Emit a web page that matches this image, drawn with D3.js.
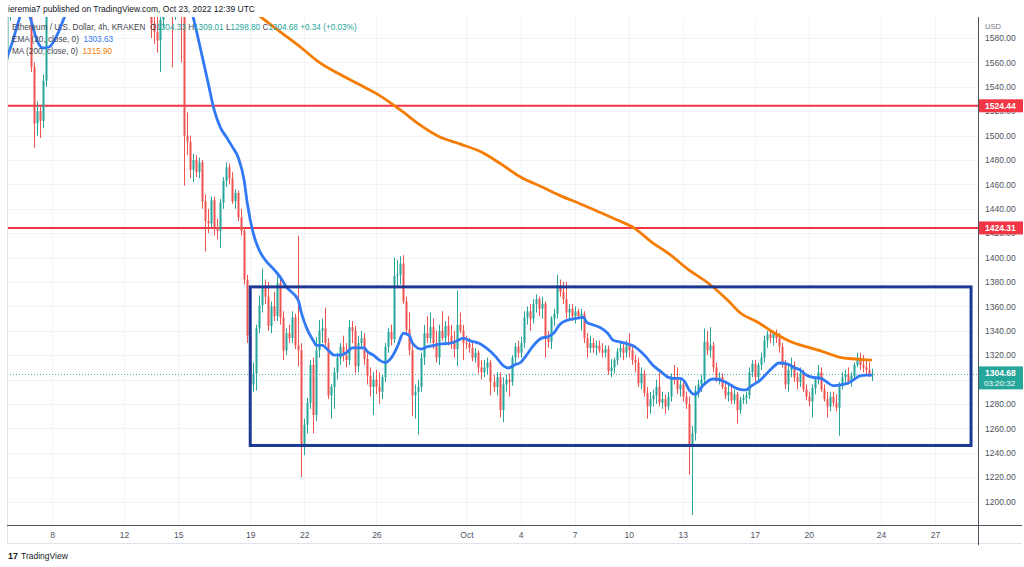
<!DOCTYPE html>
<html><head><meta charset="utf-8">
<script src="https://cdn.jsdelivr.net/npm/d3@7"></script>
<style>body{margin:0;background:#fff;} svg{display:block;font-family:"Liberation Sans",Arial,sans-serif;}</style>
</head><body><svg id="c" width="1024" height="567"></svg>
<script>
// ---------- DATA ----------
const candleStartUTC = Date.UTC(2022, 8, 5, 12); // first visible 4h candle
const candleHours = 4;
// [open, high, low, close] per 4h candle
const candles = [
[1562,1600,1556,1598],[1598,1625,1594,1618],[1618,1632,1605,1612],
[1612,1640,1606,1632],[1632,1660,1625,1650],[1650,1690,1645,1680],[1680,1700,1640,1650],[1650,1660,1610,1625],[1625,1628,1552,1556],
[1556,1560,1490,1510],[1510,1528,1500,1520],[1520,1525,1498,1512],[1512,1550,1506,1545],[1545,1610,1540,1605],[1605,1640,1600,1632],
[1632,1650,1605,1620],[1620,1640,1610,1635],[1635,1650,1620,1628],[1628,1660,1615,1645],[1645,1655,1625,1635],[1635,1645,1625,1636],
[1636,1650,1630,1645],[1645,1680,1640,1675],[1675,1700,1665,1695],[1695,1720,1685,1710],[1710,1725,1700,1715],[1715,1725,1705,1718],
[1718,1735,1710,1725],[1725,1740,1715,1730],[1730,1745,1720,1738],[1738,1760,1730,1752],[1752,1765,1740,1745],[1745,1755,1735,1748],
[1748,1765,1740,1760],[1760,1775,1750,1768],[1768,1780,1755,1762],[1762,1770,1745,1755],[1755,1765,1740,1750],[1750,1770,1745,1765],
[1765,1790,1755,1780],[1780,1795,1765,1770],[1770,1775,1720,1735],[1735,1745,1700,1715],[1715,1730,1700,1725],[1725,1735,1705,1710],
[1710,1730,1695,1720],[1720,1735,1705,1712],[1712,1725,1690,1700],[1700,1710,1580,1592],[1592,1605,1575,1585],[1585,1600,1568,1578],
[1578,1600,1552,1595],[1595,1620,1588,1612],[1612,1630,1600,1615],[1615,1625,1598,1605],[1605,1620,1556,1600],[1600,1640,1595,1630],
[1630,1645,1615,1625],[1625,1630,1560,1598],[1598,1605,1459,1500],[1500,1519,1484,1495],[1495,1500,1465,1472],[1472,1485,1462,1480],
[1480,1484,1466,1470],[1470,1482,1465,1478],[1478,1480,1440,1446],[1446,1452,1405,1430],[1430,1440,1420,1428],[1428,1450,1425,1447],
[1447,1450,1418,1425],[1425,1432,1415,1422],[1422,1448,1408,1445],[1445,1466,1440,1463],[1463,1478,1458,1474],[1474,1477,1460,1465],
[1465,1470,1444,1446],[1446,1456,1440,1453],[1453,1455,1430,1433],[1433,1440,1418,1422],[1422,1425,1378,1382],[1382,1386,1330,1336],
[1336,1360,1288,1296],[1296,1314,1290,1305],[1305,1345,1291,1342],[1342,1369,1338,1361],[1361,1391,1355,1375],[1375,1382,1362,1368],
[1368,1380,1340,1344],[1344,1364,1338,1360],[1360,1372,1348,1352],[1352,1385,1348,1379],[1379,1383,1345,1351],[1351,1356,1316,1324],
[1324,1342,1320,1338],[1338,1345,1330,1334],[1334,1356,1330,1351],[1351,1354,1325,1328],[1328,1418,1311,1324],[1324,1330,1220,1245],
[1245,1268,1238,1263],[1263,1285,1256,1281],[1281,1316,1276,1312],[1312,1318,1256,1271],[1271,1335,1266,1324],[1324,1349,1318,1340],
[1340,1350,1330,1342],[1342,1359,1328,1330],[1330,1334,1284,1287],[1287,1296,1268,1294],[1294,1310,1276,1306],[1306,1322,1300,1318],
[1318,1330,1312,1327],[1327,1336,1315,1320],[1320,1330,1310,1316],[1316,1349,1312,1343],[1343,1348,1330,1340],[1340,1344,1305,1311],
[1311,1336,1306,1330],[1330,1340,1325,1334],[1334,1338,1312,1317],[1317,1322,1296,1303],[1303,1310,1286,1294],[1294,1306,1271,1300],
[1300,1308,1288,1294],[1294,1306,1280,1290],[1290,1304,1284,1302],[1302,1330,1298,1327],[1327,1342,1322,1339],[1339,1345,1328,1333],
[1333,1400,1330,1385],[1385,1398,1375,1386],[1386,1401,1378,1395],[1395,1402,1362,1364],[1364,1368,1338,1341],[1341,1355,1320,1324],
[1324,1330,1270,1287],[1287,1296,1268,1290],[1290,1300,1255,1294],[1294,1322,1290,1318],[1318,1345,1312,1338],[1338,1352,1330,1334],
[1334,1355,1330,1343],[1343,1350,1325,1330],[1330,1340,1314,1318],[1318,1345,1312,1340],[1340,1356,1332,1334],[1334,1348,1328,1344],
[1344,1352,1328,1336],[1336,1345,1325,1330],[1330,1340,1318,1325],[1325,1373,1311,1345],[1345,1355,1338,1340],[1340,1345,1316,1330],
[1330,1336,1325,1329],[1329,1334,1322,1326],[1326,1330,1315,1318],[1318,1326,1314,1322],[1322,1324,1305,1310],[1310,1316,1300,1306],
[1306,1316,1302,1310],[1310,1318,1304,1314],[1314,1316,1287,1298],[1298,1304,1290,1294],[1294,1306,1287,1302],[1302,1306,1269,1275],
[1275,1302,1265,1296],[1296,1304,1290,1300],[1300,1305,1286,1298],[1298,1320,1295,1318],[1318,1330,1312,1327],[1327,1332,1318,1322],
[1322,1335,1318,1330],[1330,1356,1326,1351],[1351,1360,1345,1356],[1356,1362,1340,1350],[1350,1366,1346,1362],[1362,1370,1355,1366],
[1366,1368,1352,1358],[1358,1368,1350,1362],[1362,1364,1318,1334],[1334,1340,1326,1331],[1331,1352,1325,1350],[1350,1358,1344,1354],
[1354,1386,1350,1377],[1377,1382,1368,1372],[1372,1380,1362,1366],[1366,1380,1350,1355],[1355,1362,1348,1358],[1358,1362,1348,1352],
[1352,1360,1346,1356],[1356,1358,1350,1352],[1352,1358,1340,1354],[1354,1356,1330,1334],[1334,1338,1318,1326],[1326,1336,1322,1330],
[1330,1334,1322,1326],[1326,1332,1320,1328],[1328,1332,1322,1324],[1324,1330,1318,1322],[1322,1328,1318,1325],[1325,1328,1304,1307],
[1307,1317,1302,1310],[1310,1318,1305,1316],[1316,1326,1312,1323],[1323,1330,1318,1326],[1326,1330,1316,1322],[1322,1332,1318,1328],
[1328,1338,1318,1324],[1324,1328,1312,1316],[1316,1320,1306,1314],[1314,1318,1294,1297],[1297,1310,1292,1305],[1305,1308,1286,1289],
[1289,1294,1268,1278],[1278,1290,1272,1284],[1284,1292,1278,1287],[1287,1300,1280,1294],[1294,1306,1278,1281],[1281,1290,1276,1284],
[1284,1288,1272,1278],[1278,1290,1275,1286],[1286,1305,1282,1302],[1302,1312,1296,1300],[1300,1310,1288,1292],[1292,1300,1286,1296],
[1296,1300,1282,1286],[1286,1290,1276,1280],[1280,1286,1222,1245],[1245,1262,1189,1256],[1256,1295,1250,1291],[1291,1300,1285,1296],
[1296,1304,1290,1300],[1300,1342,1296,1331],[1331,1340,1320,1324],[1324,1343,1318,1328],[1328,1331,1306,1310],[1310,1314,1298,1300],
[1300,1306,1296,1302],[1302,1305,1292,1294],[1294,1298,1284,1287],[1287,1296,1282,1290],[1290,1294,1280,1283],[1283,1292,1280,1288],
[1288,1290,1264,1275],[1275,1286,1272,1283],[1283,1288,1280,1285],[1285,1290,1280,1287],[1287,1310,1284,1306],[1306,1316,1302,1313],
[1313,1316,1298,1302],[1302,1314,1298,1312],[1312,1322,1308,1318],[1318,1336,1314,1332],[1332,1340,1326,1337],[1337,1341,1330,1334],
[1334,1340,1328,1338],[1338,1341,1330,1334],[1334,1338,1322,1327],[1327,1330,1310,1313],[1313,1316,1292,1296],[1296,1312,1290,1308],
[1308,1318,1302,1312],[1312,1315,1298,1302],[1302,1306,1292,1298],[1298,1310,1294,1305],[1305,1308,1290,1292],[1292,1296,1283,1286],
[1286,1290,1278,1282],[1282,1296,1269,1293],[1293,1302,1288,1300],[1300,1312,1296,1306],[1306,1310,1290,1292],[1292,1296,1282,1284],
[1284,1290,1269,1278],[1278,1290,1274,1286],[1286,1290,1278,1281],[1281,1288,1274,1277],[1277,1298,1254,1295],[1295,1306,1292,1302],
[1302,1308,1296,1304],[1304,1310,1296,1298],[1298,1306,1294,1303],[1303,1314,1300,1312],[1312,1322,1310,1318],[1318,1322,1308,1312],
[1312,1320,1306,1310],[1310,1316,1304,1308],[1308,1314,1302,1304.33],[1304.33,1309.01,1298.80,1304.68]
];
// EMA(20) readings: [candle index, value]
const emaPoints = [[0,1563.6],[2,1578.3],[4,1594.7],[6,1610],[7,1603],[8,1594.7],[10,1578.3],[12,1571.8],[14,1572.6],[17,1584],[19,1596.3],
[22,1612],[26,1630],[30,1652],[36,1680],[42,1705],[46,1712],[50,1695],[54,1660],[58,1625],[62,1597],[64,1576],[67,1543],[69,1521],
[71,1507],[73,1499],[75,1491],[77,1482],[79,1463],[80,1445],[82,1420],[84,1406],[86,1398],[89,1390],[91,1384],[93,1376],[97,1365],
[98,1355],[100,1341],[102,1332],[103,1328],[105,1328],[107,1324],[109,1320],[111,1320],[113,1322],[115,1326],[119,1326],[120,1323],
[122,1320],[124,1316],[126,1314],[128,1318],[130,1327],[132,1338],[134,1336],[135,1330],[138,1325],[140,1327],[142,1328],[144,1329],
[148,1330],[150,1332],[152,1334],[154,1332],[157,1330],[159,1327],[161,1323],[163,1318],[165,1312],[167,1309.5],[169,1312],[171,1314],
[173,1320],[175,1327],[178,1334],[180,1335],[182,1338],[184,1345],[187,1349],[189,1350],[192,1351],[193,1347],[195,1345],[198,1342],
[200,1338],[202,1332],[204,1331],[207,1329],[209,1327],[211,1323],[213,1318],[215,1312],[218,1306],[220,1302],[222,1301],[224,1301],
[226,1297],[227,1292],[229,1288],[230,1289],[231,1293],[233,1298],[235,1300.5],[237,1300],[240,1297],[242,1294],[244,1292],[246,1291.5],
[248,1295],[251,1300],[253,1305],[255,1310],[257,1313.6],[260,1312.7],[262,1310],[264,1308],[266,1304],[268,1302],[271,1301],[273,1298],
[275,1295],[277,1295.5],[280,1297],[282,1300],[284,1303],[286,1303.7],[288,1303.63]];
// MA(200) readings: [candle index, value]
const maPoints = [[80,1606],[85,1596.3],[91,1585],[98,1572],[104,1560],[111,1550],[118,1541],[124,1533],[131,1521],[138,1508],[144,1499],
[151,1493],[158,1486.5],[164,1477.5],[171,1466],[178,1458],[184,1451],[191,1444],[198,1436.5],[204,1430],[209,1424],[214,1414],[221,1402],
[227,1390],[233,1380],[240,1365],[244,1355],[250,1347],[255,1339],[261,1331],[266,1327],[272,1322.6],[277,1318.5],[283,1316.8],[288,1315.9]];
const levels = [1524.44, 1424.31];
const rangeBox = {start: "2022-09-19T00:00Z", end: "2022-10-29T00:00Z", top: 1376, bottom: 1246};
const priceTicks = [1200,1220,1240,1260,1280,1300,1320,1340,1360,1380,1400,1420,1440,1460,1480,1500,1520,1540,1560,1580];
const hiddenTickLabels = [1300]; // fully covered by the last-price label in the reference
const dateTicks = ["2022-09-08","2022-09-12","2022-09-15","2022-09-19","2022-09-22","2022-09-26","2022-10-01","2022-10-04","2022-10-07","2022-10-10","2022-10-13","2022-10-17","2022-10-20","2022-10-24","2022-10-27"];
const dateLabels = ["8","12","15","19","22","26","Oct","4","7","10","13","17","20","24","27"];
const lastPrice = 1304.68, countdown = "03:20:32";
const header = "ieremia7 published on TradingView.com, Oct 23, 2022 12:39 UTC";

// ---------- LAYOUT ----------
const L = 7, R = 978, T = 17, B = 525;
const UP = "#26a69a", DN = "#ef5350";
const svg = d3.select("#c");
const x = d3.scaleUtc().domain([new Date("2022-09-08T00:00Z"), new Date("2022-10-27T00:00Z")]).range([52, 935]);
const y = d3.scaleLinear().domain([1200, 1580]).range([501.6, 38]);
const tOf = i => new Date(candleStartUTC + i * candleHours * 3600e3);

svg.append("defs").append("clipPath").attr("id","plot").append("rect")
  .attr("x", L).attr("y", T).attr("width", R - L).attr("height", B - T);

// grid
const g = svg.append("g");
g.selectAll(".hg").data(priceTicks).join("line")
  .attr("x1", L).attr("x2", R).attr("y1", d => Math.round(y(d)) + 0.5).attr("y2", d => Math.round(y(d)) + 0.5)
  .attr("stroke", "#f0f3fa");
g.selectAll(".vg").data(dateTicks).join("line")
  .attr("x1", d => Math.round(x(new Date(d + "T00:00Z"))) + 0.5).attr("x2", d => Math.round(x(new Date(d + "T00:00Z"))) + 0.5)
  .attr("y1", T).attr("y2", B).attr("stroke", "#f0f3fa");

const plot = svg.append("g").attr("clip-path", "url(#plot)");

// horizontal levels
plot.selectAll(".lvl").data(levels).join("line")
  .attr("x1", L).attr("x2", R).attr("y1", d => y(d)).attr("y2", d => y(d))
  .attr("stroke", "#f23645").attr("stroke-width", 2);

// current price dotted line
plot.append("line").attr("x1", L).attr("x2", R).attr("y1", Math.round(y(lastPrice)) + 0.5).attr("y2", Math.round(y(lastPrice)) + 0.5)
  .attr("stroke", UP).attr("stroke-dasharray", "1,2").attr("opacity", 0.8);

// candles
const cg = plot.append("g");
candles.forEach((c, i) => {
  const [o, h, l, cl] = c;
  const cx = Math.round(x(tOf(i)));
  const col = cl >= o ? UP : DN;
  cg.append("line").attr("x1", cx + 0.5).attr("x2", cx + 0.5).attr("y1", y(h)).attr("y2", y(l)).attr("stroke", col).attr("stroke-width", 1);
  const yt = y(Math.max(o, cl)), yb = y(Math.min(o, cl));
  cg.append("rect").attr("x", cx - 0.5).attr("width", 2).attr("y", yt).attr("height", Math.max(1, yb - yt)).attr("fill", col);
});

// moving averages
const line = d3.line().x(d => x(tOf(d[0]))).y(d => y(d[1])).curve(d3.curveMonotoneX);
plot.append("path").attr("d", line(maPoints)).attr("fill", "none").attr("stroke", "#f57c00").attr("stroke-width", 2.8);
plot.append("path").attr("d", line(emaPoints)).attr("fill", "none").attr("stroke", "#3179f5").attr("stroke-width", 2.8);

// range box
plot.append("rect")
  .attr("x", x(new Date(rangeBox.start))).attr("y", y(rangeBox.top))
  .attr("width", x(new Date(rangeBox.end)) - x(new Date(rangeBox.start)))
  .attr("height", y(rangeBox.bottom) - y(rangeBox.top))
  .attr("fill", "none").attr("stroke", "#1c3a94").attr("stroke-width", 3);

// axes frame
svg.append("line").attr("x1", L + 0.5).attr("x2", L + 0.5).attr("y1", T).attr("y2", 543).attr("stroke", "#e0e3eb");
svg.append("line").attr("x1", L).attr("x2", 1022).attr("y1", 543.5).attr("y2", 543.5).attr("stroke", "#e0e3eb");
svg.append("line").attr("x1", R + 0.5).attr("x2", R + 0.5).attr("y1", T).attr("y2", 545).attr("stroke", "#50535e");
svg.append("line").attr("x1", L).attr("x2", 1022).attr("y1", B + 0.5).attr("y2", B + 0.5).attr("stroke", "#50535e");

// right price axis
const ya = svg.append("g").attr("transform", `translate(${R},0)`)
  .call(d3.axisRight(y).tickValues(priceTicks.filter(p => !hiddenTickLabels.includes(p))).tickFormat(d3.format(".2f")).tickSize(0).tickPadding(7));
ya.select(".domain").remove();
ya.selectAll("text").attr("fill", "#50535e").attr("font-size", 8.5).attr("font-family", "Liberation Sans, Arial, sans-serif");
svg.append("text").attr("x", R + 7).attr("y", 29).attr("font-size", 7.5).attr("fill", "#787b86").text("USD");

// bottom time axis
const xa = svg.append("g").attr("transform", `translate(0,${B})`)
  .call(d3.axisBottom(x).tickValues(dateTicks.map(d => new Date(d + "T00:00Z")))
    .tickFormat((d, i) => dateLabels[i]).tickSize(0).tickPadding(7));
xa.select(".domain").remove();
xa.selectAll("text").attr("fill", "#50535e").attr("font-size", 8.5).attr("font-family", "Liberation Sans, Arial, sans-serif");

// level labels
levels.forEach(v => {
  svg.append("rect").attr("x", R + 1).attr("y", y(v) - 6.5).attr("width", 44).attr("height", 13).attr("fill", "#f23645");
  svg.append("text").attr("x", R + 7).attr("y", y(v) + 3).attr("font-size", 8.5).attr("font-weight", "bold").attr("fill", "#fff").text(v.toFixed(2));
});
// last price label
svg.append("rect").attr("x", R + 1).attr("y", y(lastPrice) - 7.5).attr("width", 44).attr("height", 23).attr("fill", UP);
svg.append("text").attr("x", R + 7).attr("y", y(lastPrice) + 2.5).attr("font-size", 8.5).attr("font-weight", "bold").attr("fill", "#fff").text(lastPrice.toFixed(2));
svg.append("text").attr("x", R + 6).attr("y", y(lastPrice) + 12).attr("font-size", 8).attr("fill", "#fff").text(countdown);

// header & legend
svg.append("text").attr("x", 8).attr("y", 12).attr("font-size", 8.5).attr("fill", "#131722").text(header);
const lg = svg.append("g").attr("font-size", 8.2);
const l1 = lg.append("text").attr("x", 12).attr("y", 30).attr("xml:space", "preserve");
const parts = [["Ethereum / U.S. Dollar, 4h, KRAKEN  ", "#434651"], ["O", "#434651"], ["1304.33 ", UP], ["H", "#434651"], ["1309.01 ", UP],
  ["L", "#434651"], ["1298.80 ", UP], ["C", "#434651"], ["1304.68 +0.34 (+0.03%)", UP]];
parts.forEach(p => l1.append("tspan").attr("fill", p[1]).text(p[0]));
const l2 = lg.append("text").attr("x", 12).attr("y", 42).attr("xml:space", "preserve");
l2.append("tspan").attr("fill", "#434651").text("EMA (20, close, 0)  ");
l2.append("tspan").attr("fill", "#3179f5").text("1303.63");
const l3 = lg.append("text").attr("x", 12).attr("y", 54).attr("xml:space", "preserve");
l3.append("tspan").attr("fill", "#434651").text("MA (200, close, 0)  ");
l3.append("tspan").attr("fill", "#f57c00").text("1315.90");

// footer logo
svg.append("text").attr("x", 8).attr("y", 559).attr("font-size", 9).attr("font-weight", "bold").attr("fill", "#131722").text("17");
svg.append("text").attr("x", 21).attr("y", 559).attr("font-size", 8.5).attr("fill", "#131722").text("TradingView");
</script></body></html>
